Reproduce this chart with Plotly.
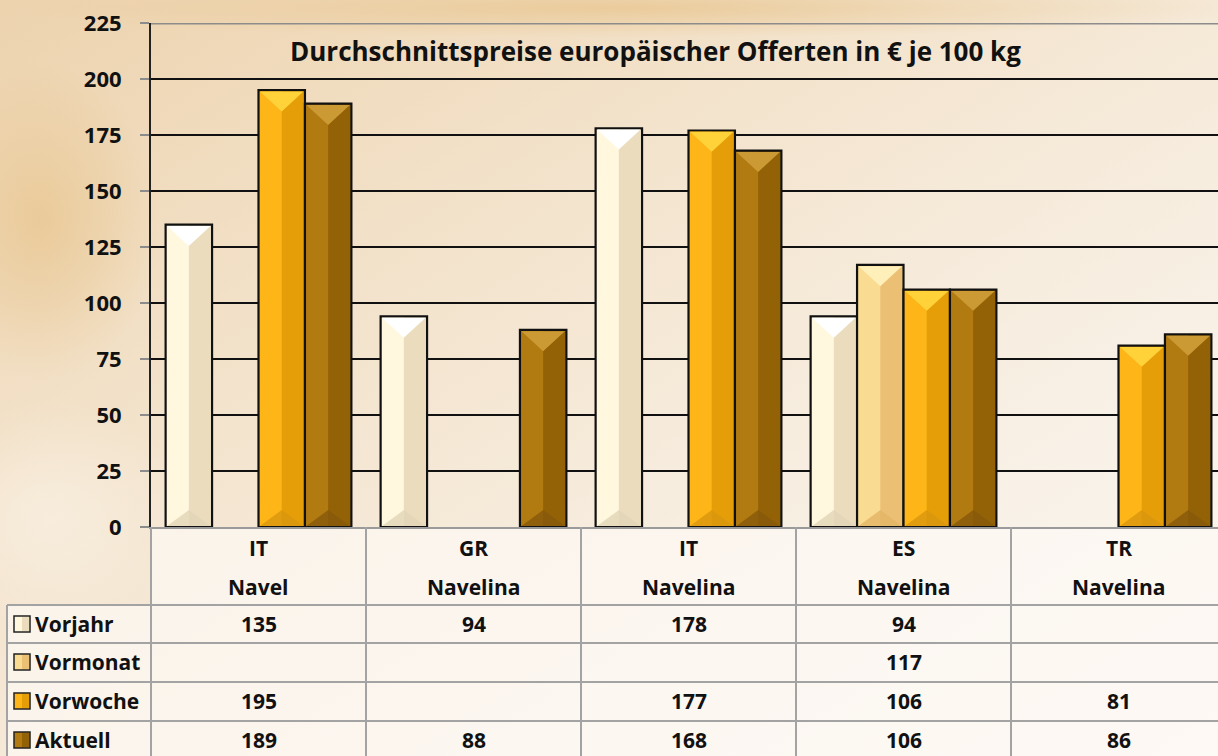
import base64
import plotly.graph_objects as go

# ---------------- data ----------------
countries = ["IT", "GR", "IT", "ES", "TR"]
varieties = ["Navel", "Navelina", "Navelina", "Navelina", "Navelina"]
series_names = ["Vorjahr", "Vormonat", "Vorwoche", "Aktuell"]
vorjahr = [135, 94, 178, 94, None]
vormonat = [None, None, None, 117, None]
vorwoche = [195, None, 177, 106, 81]
aktuell = [189, 88, 168, 106, 86]
y_ticks = [0, 25, 50, 75, 100, 125, 150, 175, 200, 225]
title_text = "Durchschnittspreise europäischer Offerten in € je 100 kg"

series_values = [vorjahr, vormonat, vorwoche, aktuell]
light_cols = ["#FFF8DF", "#FADB92", "#FDB517", "#B27B12"]
dark_cols = ["#EADCBD", "#ECC074", "#E59E08", "#936106"]
top_cols = ["#FFFFFF", "#FFEFB8", "#FFD23A", "#CC9A34"]
bot_cols = ["#E2D4B6", "#E3B466", "#D9960E", "#86590A"]

# ---------------- geometry ----------------
W, H = 1218, 756
L, T, B = 151, 23, 229
PW, PH = W - L, H - T - B
GROUP_PX = 215.0
x_max = -0.5 + PW / GROUP_PX
cats = list(range(len(countries)))
bw = 0.216
start = -2 * bw
FONT = "Open Sans"
TXT = 21
BEVEL = 9.5      # bevel depth in value units (visual style)
INSET = 0.007    # keep bevel inside the outline


def px(xp):
    return (xp - L) / PW


def py(yp):
    return (H - B - yp) / PH


fig = go.Figure()

for i, (name, vals) in enumerate(zip(series_names, series_values)):
    off = start + i * bw
    fig.add_trace(go.Bar(x=cats, y=vals, name=name, offset=off, width=bw,
                         marker=dict(color=light_cols[i], line=dict(width=0)),
                         showlegend=False, hoverinfo="y"))
    fig.add_trace(go.Bar(x=cats, y=vals, offset=off + bw * 0.5, width=bw * 0.47,
                         marker=dict(color=dark_cols[i], line=dict(width=0)),
                         showlegend=False, hoverinfo="skip"))
    fig.add_trace(go.Bar(x=cats, y=vals, offset=off, width=bw,
                         marker=dict(color="rgba(0,0,0,0)",
                                     line=dict(width=2.2, color="#111111")),
                         showlegend=False, hoverinfo="skip"))

# bevel triangles (derived from the data values)
for i, vals in enumerate(series_values):
    off = start + i * bw
    tx, ty, bx, by = [], [], [], []
    for c, v in zip(cats, vals):
        if v is None:
            continue
        xl, xr, xm = c + off + INSET, c + off + bw - INSET, c + off + bw / 2
        tx += [xl, xr, xm, xl, None]
        ty += [v - 0.6, v - 0.6, v - BEVEL, v - 0.6, None]
        bx += [xl, xr, xm, xl, None]
        by += [0.5, 0.5, BEVEL * 0.8, 0.5, None]
    fig.add_trace(go.Scatter(x=tx, y=ty, mode="lines", fill="toself",
                             fillcolor=top_cols[i], line=dict(width=0),
                             showlegend=False, hoverinfo="skip"))
    fig.add_trace(go.Scatter(x=bx, y=by, mode="lines", fill="toself",
                             fillcolor=bot_cols[i], line=dict(width=0),
                             opacity=0.8, showlegend=False, hoverinfo="skip"))

shapes = []
annotations = []

shapes.append(dict(type="line", xref="paper", yref="y", x0=0, x1=1, y0=225, y1=225,
                   line=dict(color="#8C8C8C", width=3), layer="above"))

# table background
shapes.append(dict(type="rect", xref="paper", yref="paper", x0=px(L), x1=px(W + 5),
                   y0=py(H + 5), y1=py(H - B), fillcolor="rgba(253,250,245,0.7)",
                   line=dict(width=0), layer="below"))
shapes.append(dict(type="rect", xref="paper", yref="paper", x0=px(7), x1=px(L),
                   y0=py(H + 5), y1=py(605), fillcolor="rgba(253,250,245,0.7)",
                   line=dict(width=0), layer="below"))

grid_col = "#A3A3A3"
row_lines = [605, 643, 682, 721]
for yl in row_lines:
    shapes.append(dict(type="line", xref="paper", yref="paper", x0=px(7), x1=px(W + 5),
                       y0=py(yl), y1=py(yl), line=dict(color=grid_col, width=2)))
shapes.append(dict(type="line", xref="paper", yref="paper", x0=px(7), x1=px(7),
                   y0=py(605), y1=py(H + 5), line=dict(color=grid_col, width=2)))
shapes.append(dict(type="line", xref="paper", yref="paper", x0=px(L), x1=px(L),
                   y0=py(527), y1=py(H + 5), line=dict(color=grid_col, width=2)))
for c in cats[:-1]:
    shapes.append(dict(type="line", xref="x", yref="paper", x0=c + 0.5, x1=c + 0.5,
                       y0=py(527), y1=py(H + 5), line=dict(color=grid_col, width=2)))


def ann(x, y, text, xref="paper", yref="paper", xanchor="center", size=TXT):
    annotations.append(dict(x=x, y=y, xref=xref, yref=yref, text=f"<b>{text}</b>",
                            xanchor=xanchor, yanchor="middle", showarrow=False,
                            font=dict(family=FONT, size=size, color="#111")))


for c, (co, va) in enumerate(zip(countries, varieties)):
    ann(c, py(548), co, xref="x")
    ann(c, py(587), va, xref="x")

row_centers = [624, 662, 701, 740]
for r, (name, vals) in enumerate(zip(series_names, series_values)):
    yc = row_centers[r]
    shapes.append(dict(type="rect", xref="paper", yref="paper", x0=px(14), x1=px(30),
                       y0=py(yc + 8), y1=py(yc - 8), fillcolor=light_cols[r],
                       line=dict(color="#222", width=1.5)))
    shapes.append(dict(type="rect", xref="paper", yref="paper", x0=px(22), x1=px(29),
                       y0=py(yc + 7), y1=py(yc - 7), fillcolor=dark_cols[r],
                       line=dict(width=0)))
    ann(px(33), py(yc), name, xanchor="left")
    for c, v in enumerate(vals):
        if v is not None:
            ann(c, py(yc), v, xref="x")

ann(px(655), 212.5, title_text, yref="y", size=26)

svg = f"""<svg xmlns='http://www.w3.org/2000/svg' width='{W}' height='{H}'>
<defs>
<linearGradient id='g' x1='0' y1='0' x2='1' y2='1'>
<stop offset='0' stop-color='#EDD3AE'/>
<stop offset='0.35' stop-color='#F3E3CC'/>
<stop offset='0.7' stop-color='#F8F0E5'/>
<stop offset='1' stop-color='#FBF7F1'/>
</linearGradient>
<radialGradient id='r1' cx='0.5' cy='0.5' r='0.5'>
<stop offset='0' stop-color='#E8C58E' stop-opacity='0.75'/>
<stop offset='1' stop-color='#E8C58E' stop-opacity='0'/>
</radialGradient>
<radialGradient id='r2' cx='0.5' cy='0.5' r='0.5'>
<stop offset='0' stop-color='#F8EEDF' stop-opacity='0.9'/>
<stop offset='1' stop-color='#F8EEDF' stop-opacity='0'/>
</radialGradient>
</defs>
<rect width='{W}' height='{H}' fill='url(#g)'/>
<ellipse cx='620' cy='8' rx='620' ry='30' fill='url(#r1)'/>
<ellipse cx='40' cy='220' rx='120' ry='160' fill='url(#r1)'/>
<ellipse cx='50' cy='520' rx='140' ry='120' fill='url(#r2)'/>
</svg>"""
img_src = "data:image/svg+xml;base64," + base64.b64encode(svg.encode()).decode()

fig.update_layout(
    width=W, height=H,
    margin=dict(l=L, r=0, t=T, b=B, pad=0),
    barmode="overlay",
    paper_bgcolor="#F3E6D4",
    plot_bgcolor="rgba(249,244,236,0.93)",
    shapes=shapes,
    annotations=annotations,
    images=[dict(source=img_src, xref="paper", yref="paper", x=px(0), y=py(0),
                 sizex=W / PW, sizey=H / PH, sizing="stretch", layer="below",
                 xanchor="left", yanchor="top")],
    showlegend=False,
    font=dict(family=FONT, color="#111"),
)
fig.update_xaxes(range=[-0.5, x_max], showticklabels=False, ticks="",
                 showgrid=False, zeroline=False, showline=True,
                 linecolor="#9A9A9A", linewidth=2, fixedrange=True)
fig.update_yaxes(range=[0, 225], tickvals=y_ticks,
                 ticktext=[f"<b>{t}</b>" for t in y_ticks],
                 tickfont=dict(family=FONT, size=22, color="#111"),
                 ticks="outside", ticklen=9, tickwidth=2, tickcolor="#8C8C8C",
                 ticklabelstandoff=14,
                 showgrid=True, gridcolor="#111111", gridwidth=2,
                 zeroline=False, showline=True, linecolor="#222", linewidth=2,
                 fixedrange=True)

fig.write_html("out.html", config={"displayModeBar": False},
               post_script="document.body.style.margin='0';")
